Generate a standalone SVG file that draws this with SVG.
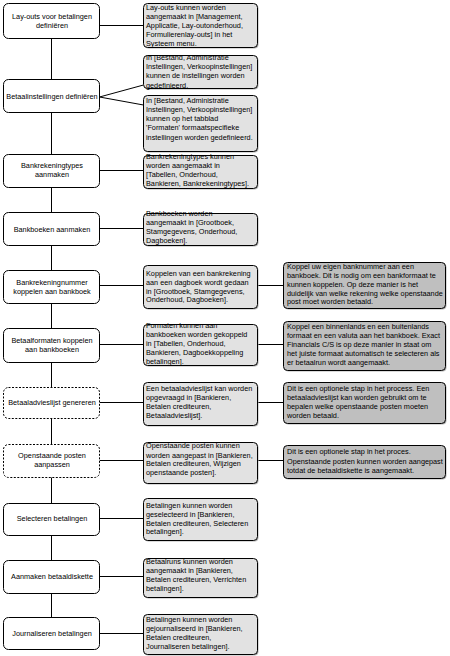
<svg xmlns="http://www.w3.org/2000/svg" width="450" height="656" viewBox="0 0 450 656">
<style>
text{font-family:"Liberation Sans",Arial,sans-serif;font-size:7.3px;fill:#000}
.c{text-anchor:middle}
.step{fill:#fff;stroke:#000;stroke-width:1}
.opt{fill:#fff;stroke:#000;stroke-width:1;stroke-dasharray:2 1.5}
.info{fill:#e2e2e2;stroke:#000;stroke-width:1}
.note{fill:#bfbfbf;stroke:#000;stroke-width:1}
.sh{fill:#b4b4b4}
.ln{stroke:#000;stroke-width:1;fill:none}
</style>
<rect width="450" height="656" fill="#fff"/>
<g id="connectors">
<line class="ln" x1="51.5" y1="38" x2="51.5" y2="617"/>
<line class="ln" x1="99.5" y1="25.5" x2="143.5" y2="25.5"/>
<line class="ln" x1="99.5" y1="97" x2="143.5" y2="85"/>
<line class="ln" x1="99.5" y1="97" x2="143.5" y2="105"/>
<line class="ln" x1="99.5" y1="170.5" x2="143.5" y2="170.5"/>
<line class="ln" x1="99.5" y1="228.5" x2="143.5" y2="228.5"/>
<line class="ln" x1="99.5" y1="285.5" x2="143.5" y2="285.5"/>
<line class="ln" x1="99.5" y1="344.5" x2="143.5" y2="344.5"/>
<line class="ln" x1="99.5" y1="402.5" x2="143.5" y2="402.5"/>
<line class="ln" x1="99.5" y1="460.5" x2="143.5" y2="460.5"/>
<line class="ln" x1="99.5" y1="518.5" x2="143.5" y2="518.5"/>
<line class="ln" x1="99.5" y1="576.5" x2="143.5" y2="576.5"/>
<line class="ln" x1="99.5" y1="633.5" x2="143.5" y2="633.5"/>
<line class="ln" x1="257.5" y1="285.5" x2="283.5" y2="285.5"/>
<line class="ln" x1="257.5" y1="344.5" x2="283.5" y2="344.5"/>
<line class="ln" x1="257.5" y1="402.5" x2="283.5" y2="402.5"/>
<line class="ln" x1="257.5" y1="460.5" x2="283.5" y2="460.5"/>
</g>

<g id="step1"><rect class="step" x="3.5" y="3.5" width="96" height="35" rx="5"/>
<text class="c" x="52" y="19">Lay-outs voor betalingen</text><text class="c" x="52" y="28">definiëren</text></g>
<g id="step2"><rect class="step" x="3.5" y="79.5" width="96" height="33" rx="5"/>
<text class="c" x="52" y="98.5">Betaalinstellingen definiëren</text></g>
<g id="step3"><rect class="step" x="3.5" y="154.5" width="96" height="33" rx="5"/>
<text class="c" x="52" y="168">Bankrekeningtypes</text><text class="c" x="52" y="176.6">aanmaken</text></g>
<g id="step4"><rect class="step" x="3.5" y="212.5" width="96" height="33" rx="5"/>
<text class="c" x="52" y="231.6">Bankboeken aanmaken</text></g>
<g id="step5"><rect class="step" x="3.5" y="270.5" width="96" height="33" rx="5"/>
<text class="c" x="52" y="284.6">Bankrekeningnummer</text><text class="c" x="52" y="293.6">koppelen aan bankboek</text></g>
<g id="step6"><rect class="step" x="3.5" y="328.5" width="96" height="34" rx="5"/>
<text class="c" x="52" y="343">Betaalformaten koppelen</text><text class="c" x="52" y="352">aan bankboeken</text></g>
<g id="step7"><rect class="opt" x="3.5" y="387.5" width="96" height="31" rx="5"/>
<text class="c" x="52" y="405">Betaaladvieslijst genereren</text></g>
<g id="step8"><rect class="opt" x="3.5" y="444.5" width="96" height="33" rx="5"/>
<text class="c" x="52" y="458">Openstaande posten</text><text class="c" x="52" y="467">aanpassen</text></g>
<g id="step9"><rect class="step" x="3.5" y="503.5" width="96" height="32" rx="5"/>
<text class="c" x="52" y="521">Selecteren betalingen</text></g>
<g id="step10"><rect class="step" x="3.5" y="560.5" width="96" height="33" rx="5"/>
<text class="c" x="52" y="578.5">Aanmaken betaaldiskette</text></g>
<g id="step11"><rect class="step" x="3.5" y="617.5" width="96" height="32" rx="5"/>
<text class="c" x="52" y="636">Journaliseren betalingen</text></g>

<g id="info1"><rect class="sh" x="144.5" y="4.5" width="114" height="44" rx="4"/><rect class="info" x="143.5" y="3.5" width="114" height="44" rx="4"/>
<text x="146" y="9.6">Lay-outs kunnen worden</text><text x="146" y="18.6">aangemaakt in [Management,</text><text x="146" y="27.6">Applicatie, Lay-outonderhoud,</text><text x="146" y="36.6">Formulierenlay-outs] in het</text><text x="146" y="45.6">Systeem menu.</text></g>
<g id="info2"><rect class="sh" x="144.5" y="56.5" width="114" height="33" rx="4"/><rect class="info" x="143.5" y="55.5" width="114" height="33" rx="4"/>
<text x="146" y="59.6">In [Bestand, Administratie</text><text x="146" y="69">Instellingen, Verkoopinstellingen]</text><text x="146" y="78.4">kunnen de instellingen worden</text><text x="146" y="87.6">gedefinieerd.</text></g>
<g id="info3"><rect class="sh" x="144.5" y="96.5" width="114" height="56" rx="4"/><rect class="info" x="143.5" y="95.5" width="114" height="56" rx="4"/>
<text x="146" y="102.6">In [Bestand, Administratie</text><text x="146" y="111.8">Instellingen, Verkoopinstellingen]</text><text x="146" y="121">kunnen op het tabblad</text><text x="146" y="130.2">'Formaten' formaatspecifieke</text><text x="146" y="139.8">instellingen worden gedefinieerd.</text></g>
<g id="info4"><rect class="sh" x="144.5" y="156.5" width="114" height="33" rx="4"/><rect class="info" x="143.5" y="155.5" width="114" height="33" rx="4"/>
<text x="146" y="158.6">Bankrekeningtypes kunnen</text><text x="146" y="167.6">worden aangemaakt in</text><text x="146" y="176.8">[Tabellen, Onderhoud,</text><text x="146" y="185.9">Bankieren, Bankrekeningtypes].</text></g>
<g id="info5"><rect class="sh" x="144.5" y="214.5" width="114" height="32" rx="4"/><rect class="info" x="143.5" y="213.5" width="114" height="32" rx="4"/>
<text x="146" y="215.6">Bankboeken worden</text><text x="146" y="224.6">aangemaakt in [Grootboek,</text><text x="146" y="233.6">Stamgegevens, Onderhoud,</text><text x="146" y="242.6">Dagboeken].</text></g>
<g id="info6"><rect class="sh" x="144.5" y="266.5" width="114" height="43" rx="4"/><rect class="info" x="143.5" y="265.5" width="114" height="43" rx="4"/>
<text x="146" y="275.9">Koppelen van een bankrekening</text><text x="146" y="284.9">aan een dagboek wordt gedaan</text><text x="146" y="293.7">in [Grootboek, Stamgegevens,</text><text x="146" y="302">Onderhoud, Dagboeken].</text></g>
<g id="info7"><rect class="sh" x="144.5" y="325.5" width="114" height="41" rx="4"/><rect class="info" x="143.5" y="324.5" width="114" height="41" rx="4"/>
<text x="146" y="328.1">Formaten kunnen aan</text><text x="146" y="337.1">bankboeken worden gekoppeld</text><text x="146" y="346.1">in [Tabellen, Onderhoud,</text><text x="146" y="355.1">Bankieren, Dagboekkoppeling</text><text x="146" y="364.1">betalingen].</text></g>
<g id="info8"><rect class="sh" x="144.5" y="383.5" width="114" height="43" rx="4"/><rect class="info" x="143.5" y="382.5" width="114" height="43" rx="4"/>
<text x="146" y="390.9">Een betaaladvieslijst kan worden</text><text x="146" y="400.3">opgevraagd in [Bankieren,</text><text x="146" y="409.3">Betalen crediteuren,</text><text x="146" y="418.3">Betaaladvieslijst].</text></g>
<g id="info9"><rect class="sh" x="144.5" y="443.5" width="114" height="41" rx="4"/><rect class="info" x="143.5" y="442.5" width="114" height="41" rx="4"/>
<text x="146" y="448.3">Openstaande posten kunnen</text><text x="146" y="457.6">worden aangepast in [Bankieren,</text><text x="146" y="465.9">Betalen crediteuren, Wijzigen</text><text x="146" y="474.9">openstaande posten].</text></g>
<g id="info10"><rect class="sh" x="144.5" y="499.5" width="114" height="42" rx="4"/><rect class="info" x="143.5" y="498.5" width="114" height="42" rx="4"/>
<text x="146" y="507.6">Betalingen kunnen worden</text><text x="146" y="516.6">geselecteerd in [Bankieren,</text><text x="146" y="525.9">Betalen crediteuren, Selecteren</text><text x="146" y="534.3">betalingen].</text></g>
<g id="info11"><rect class="sh" x="144.5" y="559.5" width="114" height="39" rx="4"/><rect class="info" x="143.5" y="558.5" width="114" height="39" rx="4"/>
<text x="146" y="564.1">Betaalruns kunnen worden</text><text x="146" y="573.1">aangemaakt in [Bankieren,</text><text x="146" y="582.1">Betalen crediteuren, Verrichten</text><text x="146" y="591.1">betalingen].</text></g>
<g id="info12"><rect class="sh" x="144.5" y="615.5" width="114" height="40" rx="4"/><rect class="info" x="143.5" y="614.5" width="114" height="40" rx="4"/>
<text x="146" y="621.6">Betalingen kunnen worden</text><text x="146" y="630.9">gejournaliseerd in [Bankieren,</text><text x="146" y="640.3">Betalen crediteuren,</text><text x="146" y="649.3">Journaliseren betalingen].</text></g>

<g id="noteA"><rect class="sh" x="284.5" y="263.5" width="162" height="46" rx="4"/><rect class="note" x="283.5" y="262.5" width="162" height="46" rx="4"/>
<text x="287" y="269.3">Koppel uw eigen banknummer aan een</text><text x="287" y="278.3">bankboek. Dit is nodig om een bankformaat te</text><text x="287" y="286.6">kunnen koppelen. Op deze manier is het</text><text x="287" y="295.9">duidelijk van welke rekening welke openstaande</text><text x="287" y="304.3">post moet worden betaald.</text></g>
<g id="noteB"><rect class="sh" x="284.5" y="322.5" width="162" height="49" rx="4"/><rect class="note" x="283.5" y="321.5" width="162" height="49" rx="4"/>
<text x="287" y="329.3">Koppel een binnenlands en een buitenlands</text><text x="287" y="338.3">formaat en een valuta aan het bankboek. Exact</text><text x="287" y="347.3">Financials C/S is op deze manier in staat om</text><text x="287" y="356.3">het juiste formaat automatisch te selecteren als</text><text x="287" y="365.3">er betaalrun wordt aangemaakt.</text></g>
<g id="noteC"><rect class="sh" x="284.5" y="383.5" width="162" height="41" rx="4"/><rect class="note" x="283.5" y="382.5" width="162" height="41" rx="4"/>
<text x="287" y="390.9">Dit is een optionele stap in het process. Een</text><text x="287" y="400.3">betaaladvieslijst kan worden gebruikt om te</text><text x="287" y="409.3">bepalen welke openstaande posten moeten</text><text x="287" y="418.3">worden betaald.</text></g>
<g id="noteD"><rect class="sh" x="284.5" y="446.5" width="162" height="33" rx="4"/><rect class="note" x="283.5" y="445.5" width="162" height="33" rx="4"/>
<text x="287" y="454.3">Dit is een optionele stap in het proces.</text><text x="287" y="463.6">Openstaande posten kunnen worden aangepast</text><text x="287" y="472.6">totdat de betaaldiskette is aangemaakt.</text></g>
</svg>
